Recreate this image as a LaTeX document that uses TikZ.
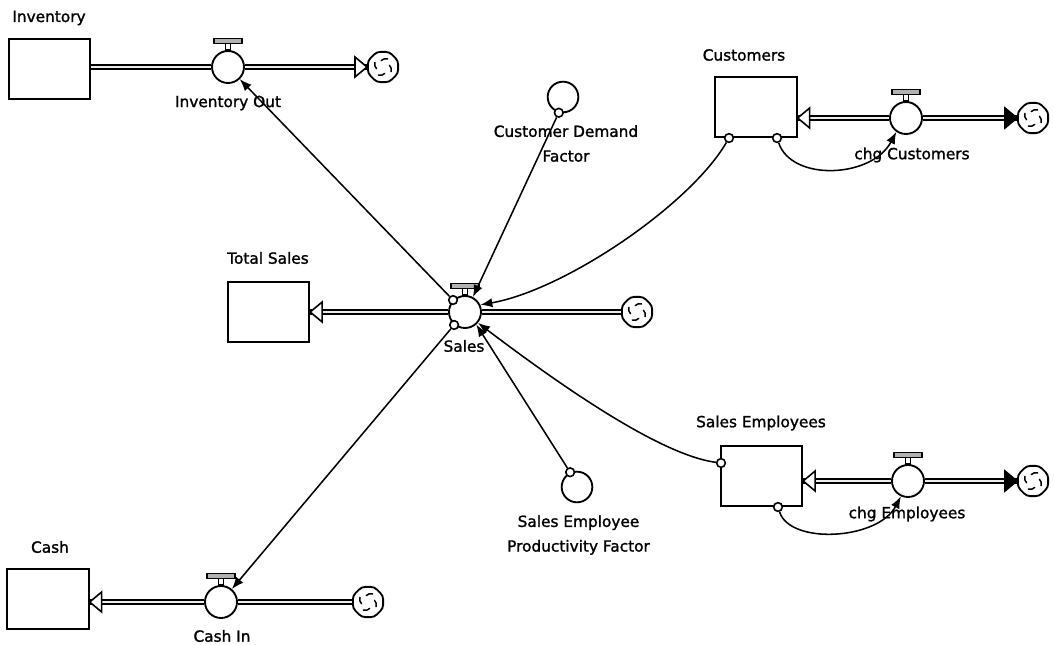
\documentclass[tikz,border=0pt]{standalone}
\usepackage{fontspec}
\setmainfont{DejaVu Sans}
\newfontfamily\lblfont{DejaVu Sans}[FakeBold=1.4]
\usetikzlibrary{arrows.meta,shapes.geometric}
\begin{document}
\begin{tikzpicture}[x=0.75pt,y=-0.75pt,
  lbl/.style={inner sep=0pt, font=\lblfont\fontsize{11.5}{18.5}\selectfont, align=center},
  stock/.style={draw, line width=1.5pt, fill=white, inner sep=0pt, minimum width=61pt, minimum height=45pt},
  valve/.style={circle, draw, line width=1.4pt, fill=white, minimum size=24pt, inner sep=0pt},
  aux/.style={circle, draw, line width=1.4pt, fill=white, minimum size=23pt, inner sep=0pt},
  socket/.style={circle, draw, line width=1.2pt, fill=white, minimum size=6.5pt, inner sep=0pt},
  cloudnode/.style={regular polygon, regular polygon sides=8, draw, line width=1.4pt,
    rounded corners=2.5pt, fill=white, minimum size=24.5pt, inner sep=0pt,
    path picture={
      \foreach \a in {60,150,240,330}{
        \draw[line width=1.1pt, line cap=round, sharp corners]
          ([shift={(\a:7pt)}]path picture bounding box.center)
          to[bend right=30] ([shift={(\a+45:5pt)}]path picture bounding box.center);
      }}},
  pipe/.style={draw=black, double=gray!15, double distance=1.6pt, line width=1.2pt},
  conn/.style={line width=1.15pt, -{Latex[length=9pt,width=7pt]}},
  opentip/.style={line width=1.2pt, fill=white, line join=miter},
  fulltip/.style={line width=1.2pt, fill=black, line join=miter}]
\useasboundingbox (0,0) rectangle (1054,645);

% stocks
\node[stock] (inv)  at (49.5,69.5) {};
\node[stock] (tsal) at (268.5,312.5) {};
\node[stock] (cust) at (756,107.5) {};
\node[stock] (semp) at (761.5,476) {};
\node[stock] (cash) at (48,599) {};

% flow valves
\node[valve] (vInv)   at (228,67) {};
\node[valve] (vSales) at (465,312) {};
\node[valve] (vCust)  at (906,118) {};
\node[valve] (vEmp)   at (908,481) {};
\node[valve] (vCash)  at (221,602) {};

% sources and sinks
\node[cloudnode] (cInv)   at (383,67) {};
\node[cloudnode] (cSales) at (637,312) {};
\node[cloudnode] (cCust)  at (1033,118) {};
\node[cloudnode] (cEmp)   at (1033,481) {};
\node[cloudnode] (cCash)  at (368,602) {};

% converters
\node[aux] (cdf)  at (563,97) {};
\node[aux] (sepf) at (577,487) {};

% pipes
\coordinate (invOut) at (inv.east |- vInv);
\coordinate (tsIn)   at (tsal.east |- vSales);
\coordinate (custIn) at (cust.east |- vCust);
\coordinate (empIn)  at (semp.east |- vEmp);
\coordinate (cashIn) at (cash.east |- vCash);

\draw[pipe] (invOut) -- (vInv);
\draw[pipe] (vInv) -- (cInv);
\draw[pipe] (vSales) -- (tsIn);
\draw[pipe] (vSales) -- (cSales);
\draw[pipe] (vCust) -- (custIn);
\draw[pipe] (vCust) -- (cCust);
\draw[pipe] (vEmp) -- (empIn);
\draw[pipe] (vEmp) -- (cEmp);
\draw[pipe] (vCash) -- (cashIn);
\draw[pipe] (vCash) -- (cCash);

% flow arrowheads
\draw[opentip] (cInv.west) -- ++(-12,-10) -- ++(0,20) -- cycle;
\draw[opentip] (tsIn) -- ++(12,-10) -- ++(0,20) -- cycle;
\draw[opentip] (custIn) -- ++(12,-10) -- ++(0,20) -- cycle;
\draw[fulltip] (cCust.west) -- ++(-12,-10) -- ++(0,20) -- cycle;
\draw[opentip] (empIn) -- ++(12,-10) -- ++(0,20) -- cycle;
\draw[fulltip] (cEmp.west) -- ++(-12,-10) -- ++(0,20) -- cycle;
\draw[opentip] (cashIn) -- ++(12,-10) -- ++(0,20) -- cycle;

% valve handles
\foreach \v in {vInv,vSales,vCust,vEmp,vCash}{
  \draw[line width=1.1pt, fill=white] ([xshift=-2pt]\v.north) rectangle ([xshift=2pt,yshift=5pt]\v.north);
  \draw[line width=1.1pt, fill=gray!60] ([xshift=-10.5pt,yshift=5pt]\v.north) rectangle ([xshift=10.5pt,yshift=8.5pt]\v.north);
}

% connector sockets
\node[socket] (sS1)   at (vSales.135) {};
\node[socket] (sS2)   at (vSales.-130) {};
\node[socket] (sCdf)  at (cdf.-105) {};
\node[socket] (sSepf) at (sepf.115) {};
\node[socket] (sC1)   at (729,138) {};
\node[socket] (sC2)   at (777,138) {};
\node[socket] (sE1)   at (721,463) {};
\node[socket] (sE2)   at (778,507) {};

% connectors
\draw[conn] (sS1) -- (vInv);
\draw[conn] (sCdf) -- (vSales.62);
\draw[conn] (sC1) .. controls (690,205) and (565,290) .. (vSales.25);
\draw[conn] (sC2) .. controls (792,182) and (872,178) .. (vCust.-125);
\draw[conn] (sE1) .. controls (660,455) and (560,385) .. (vSales.-40);
\draw[conn] (sE2) .. controls (790,545) and (878,540) .. (vEmp.-115);
\draw[conn] (sSepf) -- (vSales.-48);
\draw[conn] (sS2) -- (vCash.50);

% labels
\node[lbl] (lInv)   at (49,18)   {Inventory};
\node[lbl] (lInvO)  at (228,103) {Inventory Out};
\node[lbl] (lCdf)   at (566,143.5) {Customer Demand\\Factor};
\node[lbl] (lCust)  at (744,55)  {Customers};
\node[lbl] (lChgC)  at (912,155) {chg Customers};
\node[lbl] (lTs)    at (268,258) {Total Sales};
\node[lbl] (lSales) at (464,346) {Sales};
\node[lbl] (lSemp)  at (761,423) {Sales Employees};
\node[lbl] (lChgE)  at (907,514) {chg Employees};
\node[lbl] (lSepf)  at (578.5,535) {Sales Employee\\Productivity Factor};
\node[lbl] (lCash)  at (50,547)  {Cash};
\node[lbl] (lCashI) at (222,636) {Cash In};
\end{tikzpicture}
\end{document}
